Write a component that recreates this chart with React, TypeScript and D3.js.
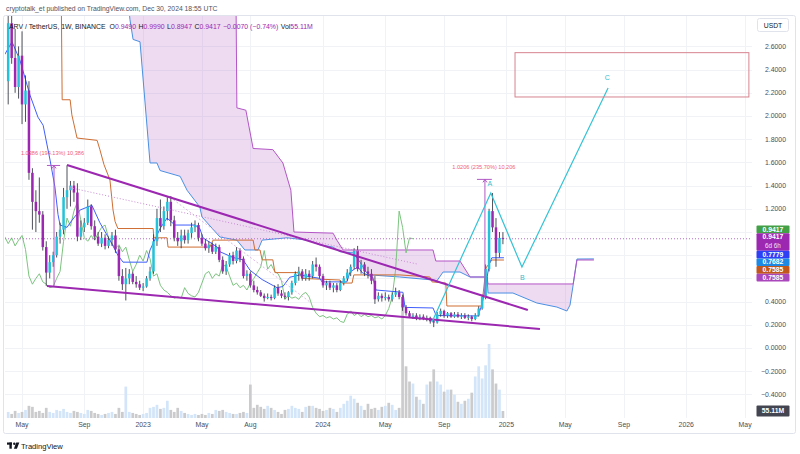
import React from "react";
import * as d3 from "d3";

const W = 800;
const H = 454;
const FONT = "'Liberation Sans', Arial, sans-serif";

// weekly bars, first bar = Monday 2022-04-04
const START = Date.UTC(2022, 3, 4);
const WEEK = 7 * 864e5;

// [open, high, low, close]
const candles: [number, number, number, number][] = [
  [2.30, 2.95, 2.10, 2.80], [2.80, 2.90, 2.45, 2.50], [2.50, 2.75, 2.20, 2.25], [2.25, 2.60, 2.15, 2.52],
  [2.52, 2.73, 1.93, 2.10], [2.10, 2.35, 1.95, 2.22], [2.22, 2.30, 1.45, 1.51], [1.51, 1.55, 1.02, 1.26],
  [1.26, 1.36, 1.00, 1.18], [1.18, 1.47, 1.08, 1.15], [1.15, 1.18, 0.84, 0.87], [0.87, 0.92, 0.535, 0.65],
  [0.65, 0.80, 0.60, 0.74], [0.74, 0.83, 0.70, 0.80], [0.80, 1.00, 0.78, 0.96], [0.96, 1.08, 0.90, 1.02],
  [1.02, 1.38, 0.98, 1.30], [1.30, 1.574, 1.20, 1.36], [1.36, 1.44, 1.22, 1.40], [1.40, 1.44, 1.26, 1.34],
  [1.34, 1.42, 0.92, 0.96], [0.96, 1.10, 0.93, 1.04], [1.04, 1.12, 1.00, 1.08], [1.08, 1.28, 1.06, 1.22],
  [1.22, 1.24, 1.02, 1.05], [1.05, 1.10, 0.93, 0.96], [0.96, 1.00, 0.88, 0.90], [0.90, 1.00, 0.87, 0.95],
  [0.95, 0.98, 0.85, 0.88], [0.88, 0.96, 0.86, 0.93], [0.93, 1.00, 0.88, 0.97], [0.97, 1.02, 0.82, 0.85],
  [0.85, 0.88, 0.58, 0.62], [0.62, 0.68, 0.50, 0.55], [0.55, 0.69, 0.41, 0.60], [0.60, 0.68, 0.55, 0.64],
  [0.64, 0.66, 0.55, 0.57], [0.57, 0.62, 0.52, 0.55], [0.55, 0.58, 0.50, 0.52], [0.52, 0.56, 0.49, 0.53],
  [0.53, 0.62, 0.52, 0.60], [0.60, 0.70, 0.58, 0.66], [0.66, 0.98, 0.64, 0.92], [0.92, 1.20, 0.88, 1.12],
  [1.12, 1.28, 1.00, 1.05], [1.05, 1.22, 1.02, 1.18], [1.18, 1.30, 1.10, 1.26], [1.26, 1.31, 1.05, 1.10],
  [1.10, 1.14, 0.92, 0.95], [0.95, 1.00, 0.88, 0.92], [0.92, 1.02, 0.86, 0.97], [0.97, 1.02, 0.90, 0.93],
  [0.93, 1.02, 0.90, 0.99], [0.99, 1.08, 0.95, 1.04], [1.04, 1.10, 1.00, 1.06], [1.06, 1.08, 0.92, 0.95],
  [0.95, 0.98, 0.88, 0.90], [0.90, 0.94, 0.84, 0.86], [0.86, 0.92, 0.82, 0.89], [0.89, 0.91, 0.81, 0.83],
  [0.83, 0.90, 0.81, 0.87], [0.87, 0.89, 0.74, 0.76], [0.76, 0.79, 0.64, 0.66], [0.66, 0.75, 0.63, 0.72],
  [0.72, 0.82, 0.70, 0.80], [0.80, 0.83, 0.72, 0.75], [0.75, 0.87, 0.73, 0.84], [0.84, 0.86, 0.74, 0.77],
  [0.77, 0.79, 0.60, 0.62], [0.62, 0.67, 0.58, 0.64], [0.64, 0.66, 0.52, 0.54], [0.54, 0.58, 0.48, 0.50],
  [0.50, 0.53, 0.46, 0.48], [0.48, 0.50, 0.44, 0.45], [0.45, 0.47, 0.40, 0.43], [0.43, 0.47, 0.42, 0.44],
  [0.44, 0.46, 0.41, 0.43], [0.43, 0.54, 0.42, 0.52], [0.52, 0.55, 0.45, 0.47], [0.47, 0.50, 0.43, 0.45],
  [0.45, 0.48, 0.42, 0.44], [0.44, 0.49, 0.41, 0.48], [0.48, 0.58, 0.46, 0.56], [0.56, 0.66, 0.54, 0.64],
  [0.64, 0.70, 0.58, 0.66], [0.66, 0.68, 0.58, 0.60], [0.60, 0.68, 0.58, 0.64], [0.64, 0.67, 0.58, 0.62],
  [0.62, 0.75, 0.60, 0.72], [0.72, 0.78, 0.66, 0.70], [0.70, 0.72, 0.60, 0.62], [0.62, 0.64, 0.52, 0.54],
  [0.54, 0.58, 0.50, 0.56], [0.56, 0.58, 0.50, 0.52], [0.52, 0.56, 0.48, 0.54], [0.54, 0.56, 0.48, 0.50],
  [0.50, 0.58, 0.49, 0.56], [0.56, 0.62, 0.54, 0.60], [0.60, 0.68, 0.58, 0.65], [0.65, 0.72, 0.62, 0.70],
  [0.70, 0.86, 0.68, 0.84], [0.84, 0.88, 0.66, 0.68], [0.68, 0.76, 0.64, 0.72], [0.72, 0.74, 0.62, 0.66],
  [0.66, 0.70, 0.60, 0.64], [0.64, 0.68, 0.55, 0.58], [0.58, 0.62, 0.38, 0.42], [0.42, 0.48, 0.40, 0.45],
  [0.45, 0.47, 0.40, 0.43], [0.43, 0.48, 0.41, 0.44], [0.44, 0.46, 0.40, 0.42], [0.42, 0.48, 0.40, 0.46],
  [0.46, 0.52, 0.44, 0.48], [0.48, 0.50, 0.42, 0.44], [0.44, 0.46, 0.32, 0.35], [0.35, 0.37, 0.28, 0.30],
  [0.30, 0.32, 0.26, 0.27], [0.27, 0.30, 0.25, 0.28], [0.28, 0.30, 0.24, 0.26], [0.26, 0.29, 0.24, 0.27],
  [0.27, 0.29, 0.24, 0.25], [0.25, 0.28, 0.23, 0.26], [0.26, 0.27, 0.21, 0.23], [0.23, 0.25, 0.18, 0.22],
  [0.22, 0.31, 0.21, 0.29], [0.29, 0.34, 0.27, 0.32], [0.32, 0.33, 0.26, 0.28], [0.28, 0.31, 0.26, 0.30],
  [0.30, 0.31, 0.26, 0.27], [0.27, 0.31, 0.26, 0.29], [0.29, 0.31, 0.26, 0.27], [0.27, 0.30, 0.25, 0.28],
  [0.28, 0.30, 0.25, 0.26], [0.26, 0.29, 0.24, 0.27], [0.27, 0.28, 0.23, 0.25], [0.25, 0.30, 0.24, 0.28],
  [0.28, 0.36, 0.27, 0.34], [0.34, 0.46, 0.33, 0.44], [0.44, 0.72, 0.42, 0.68], [0.68, 1.20, 0.66, 1.18],
  [1.18, 1.336, 1.00, 1.04], [1.04, 1.12, 0.70, 0.82], [0.82, 1.00, 0.78, 0.949], [0.949, 0.999, 0.8947, 0.9417],
];

// weekly volume, millions
const volumes: number[] = [
  48, 32, 56, 40, 48, 64, 96, 88, 48, 56, 40, 80, 48, 40, 64, 56, 72, 48, 40, 56,
  48, 40, 32, 64, 56, 40, 32, 24, 32, 40, 48, 32, 80, 48, 248, 48, 40, 32, 24, 32,
  40, 80, 88, 104, 72, 80, 136, 64, 48, 80, 56, 40, 32, 24, 32, 24, 32, 24, 40, 32,
  64, 56, 64, 48, 40, 32, 32, 40, 48, 40, 264, 80, 104, 88, 72, 96, 80, 64, 48, 32,
  64, 72, 96, 80, 72, 48, 88, 96, 96, 80, 72, 56, 64, 80, 72, 48, 80, 112, 136, 176,
  152, 120, 96, 64, 112, 72, 80, 64, 88, 96, 120, 104, 64, 80, 900, 408, 288, 272, 168, 144,
  112, 264, 288, 384, 288, 264, 208, 224, 224, 184, 128, 112, 136, 152, 200, 328, 408, 312, 416, 584,
  384, 272, 224, 55.11,
];

// Ichimoku lines as [bar index, price] vertices
const conversionLine: [number, number][] = [
  [-1, 2.53], [1.1, 2.64], [3.4, 2.48], [6.3, 2.18], [8.6, 1.99], [10.1, 1.92], [12.1, 1.62], [13.5, 1.39],
  [14.4, 1.15], [15.0, 1.06], [17.0, 1.04], [18.4, 1.10], [20.8, 1.19], [24.2, 1.23], [26.5, 1.08], [29.4, 0.93],
  [31.7, 0.80], [33.2, 0.74], [40.1, 0.74], [41.0, 0.845], [43.9, 1.03], [45.9, 1.12], [48.2, 1.06], [54.0, 1.06],
  [55.4, 1.03], [56.3, 0.95], [60.4, 0.87], [61.2, 0.83], [65.0, 0.78], [67.9, 0.76], [69.9, 0.67], [73.4, 0.59],
  [77.7, 0.52], [79.4, 0.53], [81.4, 0.61], [84.3, 0.63], [90.1, 0.60], [90.7, 0.57], [97.9, 0.57], [98.8, 0.655],
  [101.1, 0.70], [102.3, 0.65], [105.4, 0.61], [106.3, 0.50], [114.1, 0.48], [114.7, 0.35], [122.8, 0.345],
  [123.7, 0.28], [135.8, 0.276], [136.9, 0.37], [138.1, 0.54], [139.0, 0.72], [139.8, 0.7779], [143.3, 0.7779],
];
const baseLine: [number, number][] = [
  [-1, 3.2], [15.3, 3.17], [15.6, 2.14], [17.9, 2.14], [18.4, 2.01], [19.9, 1.81], [25.7, 1.79], [26.5, 1.71],
  [27.7, 1.58], [29.4, 1.45], [30.3, 1.19], [30.9, 1.09], [31.7, 1.03], [41.9, 1.03], [42.1, 0.95], [45.9, 0.95],
  [46.2, 0.87], [58.3, 0.87], [59.2, 0.93], [70.8, 0.93], [71.3, 0.845], [72.8, 0.845], [73.4, 0.76], [76.5, 0.76],
  [77.1, 0.65], [84.3, 0.65], [84.9, 0.60], [95.9, 0.586], [96.5, 0.56], [99.4, 0.56], [99.9, 0.63], [113.2, 0.63],
  [121.9, 0.612], [122.5, 0.57], [126.5, 0.56], [126.8, 0.362], [136.9, 0.362], [138.1, 0.69], [139.8, 0.7585],
  [143.3, 0.7585],
];
const leadingSpanA: [number, number][] = [
  [-1, 3.1], [34.3, 3.09], [35.2, 2.83], [36.1, 2.66], [38.1, 2.64], [41.0, 1.595], [43.0, 1.595], [43.9, 1.53],
  [49.7, 1.48], [51.7, 1.36], [55.4, 1.215], [56.0, 1.13], [61.2, 0.957], [66.1, 0.93], [68.4, 0.845], [72.2, 0.845],
  [73.4, 0.93], [80.6, 0.95], [86.4, 0.93], [90.1, 0.89], [93.9, 0.87], [95.9, 0.83], [99.7, 0.82], [101.7, 0.74],
  [103.4, 0.655], [104.6, 0.63], [113.2, 0.612], [122.8, 0.586], [123.9, 0.578], [125.7, 0.655], [130.6, 0.655],
  [133.5, 0.612], [138.4, 0.612], [138.7, 0.474], [145.9, 0.474], [152.8, 0.388], [158.6, 0.353], [161.5, 0.319],
  [162.4, 0.37], [163.3, 0.543], [164.4, 0.767], [169.3, 0.768],
];
const leadingSpanB: [number, number][] = [
  [-1, 3.2], [65.8, 3.2], [66.1, 2.07], [68.7, 2.05], [70.8, 1.72], [76.5, 1.71], [79.4, 1.595], [81.7, 1.36],
  [82.6, 1.0], [93.9, 0.99], [95.0, 0.93], [96.8, 0.845], [122.8, 0.845], [123.6, 0.75], [130.6, 0.75],
  [133.5, 0.612], [138.4, 0.612], [138.7, 0.552], [163.3, 0.552], [164.4, 0.7585], [169.3, 0.7585],
];

// drawings
const upperTrend: [number, number][] = [[17.0, 1.578], [150.2, 0.328]];
const lowerTrend: [number, number][] = [[11.2, 0.534], [153.7, 0.164]];
const dottedTrend: [number, number][] = [[17.0, 1.388], [118.2, 0.724]];
const dashedTrend: [number, number][] = [[46.8, 1.30], [87.2, 0.397]];
const abcWave: [number, number][] = [[122.5, 0.224], [139.5, 1.336], [148.5, 0.698], [173.4, 2.241]];
const abcLabels: [string, number, number][] = [["A", 139.2, 1.40], ["B", 148.6, 0.59], ["C", 173.2, 2.31]];
const targetBox: [number, number][] = [[146.5, 2.546], [214.1, 2.164]];
const measures = [
  { at: 13.25, from: 0.535, to: 1.5736, cap: [11.2, 15.0], text: "1.0386 (194.13%) 10,386", tx: 12.8, ty: 1.66 },
  { at: 137.8, from: 0.433, to: 1.4536, cap: [135.5, 139.8], text: "1.0206 (235.70%) 10,206", tx: 137.5, ty: 1.54 },
];

const gridPrices = [-0.4, -0.2, 0, 0.2, 0.4, 0.6, 0.8, 1.0, 1.2, 1.4, 1.6, 1.8, 2.0, 2.2, 2.4, 2.6];
const priceTicks = [2.6, 2.4, 2.2, 2.0, 1.8, 1.6, 1.4, 1.2, 0.4, 0.2, 0, -0.2, -0.4];
const timeTicks: [string, string][] = [
  ["2022-05-02", "May"], ["2022-09-05", "Sep"], ["2023-01-02", "2023"], ["2023-05-01", "May"],
  ["2023-08-07", "Aug"], ["2024-01-01", "2024"], ["2024-05-06", "May"], ["2024-09-02", "Sep"],
  ["2025-01-06", "2025"], ["2025-05-05", "May"], ["2025-09-01", "Sep"], ["2026-01-05", "2026"],
  ["2026-05-04", "May"],
];
const lastLabels = [
  { value: 0.9417, text: "0.9417", color: "#43a047" },
  { value: 0.9417, text: "0.9417", sub: "6d 6h", color: "#9c27b0" },
  { value: 0.7779, text: "0.7779", color: "#2f3ff5" },
  { value: 0.7682, text: "0.7682", color: "#1e88e5" },
  { value: 0.7585, text: "0.7585", color: "#c2571e" },
  { value: 0.7585, text: "0.7585", color: "#ab47bc" },
];
const lastVolumeText = "55.11M";
const currentPrice = 0.9417;

const UP = "#22c3da";
const DOWN = "#9c27b0";
const WICK = "#3a3d48";

const PLOT = { left: 5, right: 752, top: 16, bottom: 418 };

const xScale = d3
  .scaleUtc()
  .domain([new Date(START - 0.925 * WEEK), new Date(START + 215 * WEEK)])
  .range([PLOT.left, PLOT.right]);
const X = (i: number) => xScale(new Date(START + i * WEEK));
const yScale = d3.scaleLinear().domain([-0.4, 2.6]).range([394.4, 46.4]);
const volScale = d3.scaleLinear().domain([0, 900]).range([418, 304]);

const lineGen = d3
  .line<[number, number]>()
  .x((d) => X(d[0]))
  .y((d) => yScale(d[1]));

function fmt(v: number) {
  const s = Math.abs(v).toFixed(4);
  return v < -1e-9 ? "\u2212" + s : s;
}

function stackLabels() {
  const items = lastLabels.map((l, k) => ({ k, y: yScale(l.value), h: l.sub ? 17.4 : 7.7 }));
  type C = { members: number[]; desired: number[]; h: number };
  let clusters: C[] = items.map((it) => ({ members: [it.k], desired: [it.y], h: it.h }));
  const center = (c: C) => d3.mean(c.desired) as number;
  let changed = true;
  while (changed) {
    changed = false;
    for (let k = 0; k < clusters.length - 1; k++) {
      const a = clusters[k];
      const b = clusters[k + 1];
      if (center(a) + a.h / 2 > center(b) - b.h / 2) {
        clusters.splice(k, 2, {
          members: a.members.concat(b.members),
          desired: a.desired.concat(b.desired),
          h: a.h + b.h,
        });
        changed = true;
        break;
      }
    }
  }
  const tops: number[] = [];
  clusters.forEach((c) => {
    let t = center(c) - c.h / 2 + 1.2;
    c.members.forEach((m) => {
      tops[m] = t;
      t += items[m].h;
    });
  });
  return items.map((it) => ({ top: tops[it.k], h: it.h }));
}

export default function App() {
  const lagging: [number, number][] = candles.slice(25).map((c, k) => [k + 25 - 26, c[3]]);
  const cloudPath =
    (lineGen(leadingSpanB) as string) +
    "L" +
    (lineGen([...leadingSpanA].reverse()) as string).slice(1) +
    "Z";
  const stacked = stackLabels();
  const bw = 2.5;

  return (
    <svg
      width={W}
      height={H}
      style={{ position: "fixed", left: 0, top: 0, background: "#fff" }}
      fontFamily={FONT}
    >
      <defs>
        <clipPath id="plot">
          <rect x={PLOT.left} y={PLOT.top} width={PLOT.right - PLOT.left} height={PLOT.bottom - PLOT.top} />
        </clipPath>
      </defs>
      <rect x={0} y={0} width={W} height={H} fill="#fff" />

      {/* header */}
      <text x={6} y={10.5} fontSize={6.8} fill="#50535e">
        cryptotalk_et published on TradingView.com, Dec 30, 2024 18:55 UTC
      </text>

      {/* frame */}
      <rect x={3.5} y={15.5} width={792} height={418} fill="none" stroke="#e0e3eb" rx={2} />

      {/* grid */}
      <g stroke="#f0f2f6" strokeWidth={1}>
        {gridPrices.map((p) => (
          <line key={"gh" + p} x1={PLOT.left} x2={PLOT.right} y1={Math.round(yScale(p)) + 0.5} y2={Math.round(yScale(p)) + 0.5} />
        ))}
        {timeTicks.map(([d]) => {
          const xx = Math.round(xScale(new Date(d + "T00:00:00Z"))) + 0.5;
          return <line key={"gv" + d} x1={xx} x2={xx} y1={PLOT.top} y2={PLOT.bottom} />;
        })}
      </g>

      <g clipPath="url(#plot)">
        {/* volume */}
        {volumes.map((v, i) => {
          const c = candles[i];
          const up = c[3] >= c[0];
          const top = volScale(v);
          return (
            <rect
              key={"v" + i}
              x={X(i) - 1.35}
              y={top}
              width={2.7}
              height={volScale(0) - top}
              fill={up ? "#d3e5f8" : "#cbcbcd"}
            />
          );
        })}

        {/* cloud */}
        <path d={cloudPath} fill="rgba(186, 104, 200, 0.24)" stroke="none" />
        <path d={lineGen(leadingSpanA) as string} fill="none" stroke="#4a90e2" strokeWidth={1} />
        <path d={lineGen(leadingSpanB) as string} fill="none" stroke="#b455c6" strokeWidth={1} />

        {/* lagging, base, conversion */}
        <path d={lineGen(lagging) as string} fill="none" stroke="#7cc47f" strokeWidth={1} />
        <path d={lineGen(baseLine) as string} fill="none" stroke="#cf6d32" strokeWidth={1} />
        <path d={lineGen(conversionLine) as string} fill="none" stroke="#3f5efb" strokeWidth={1} />

        {/* current price line */}
        <line
          x1={PLOT.left}
          x2={PLOT.right}
          y1={yScale(currentPrice)}
          y2={yScale(currentPrice)}
          stroke="#b86cc8"
          strokeWidth={1}
          strokeDasharray="1 2"
        />

        {/* candles */}
        {candles.map(([o, h, l, c], i) => {
          const xx = X(i);
          const up = c >= o;
          const yt = yScale(Math.max(o, c));
          const yb = yScale(Math.min(o, c));
          return (
            <g key={"c" + i}>
              <line x1={xx} x2={xx} y1={yScale(h)} y2={yScale(l)} stroke={WICK} strokeWidth={0.9} />
              <rect x={xx - bw / 2} y={yt} width={bw} height={Math.max(1, yb - yt)} fill={up ? UP : DOWN} />
            </g>
          );
        })}

        {/* trend drawings */}
        <path d={lineGen(dottedTrend) as string} stroke="#c98ad4" strokeWidth={1} strokeDasharray="1 2" fill="none" />
        <path d={lineGen(dashedTrend) as string} stroke="#d7a6de" strokeWidth={0.8} strokeDasharray="2 2" fill="none" />
        <path d={lineGen(upperTrend) as string} stroke="#9c27b0" strokeWidth={2} fill="none" />
        <path d={lineGen(lowerTrend) as string} stroke="#9c27b0" strokeWidth={2} fill="none" />

        {/* measure tools */}
        {measures.map((m, k) => {
          const xx = X(m.at);
          const y1 = yScale(m.from);
          const y2 = yScale(m.to);
          return (
            <g key={"m" + k}>
              <line x1={xx} x2={xx} y1={y1} y2={y2} stroke="#b158c4" strokeWidth={1} />
              <line x1={X(m.cap[0])} x2={X(m.cap[1])} y1={y2} y2={y2} stroke="#b158c4" strokeWidth={1} />
              <path d={`M${xx - 2},${y2 + 3}L${xx},${y2}L${xx + 2},${y2 + 3}`} stroke="#b158c4" fill="none" strokeWidth={1} />
              <text x={X(m.tx)} y={yScale(m.ty)} fontSize={5.6} fill="#f0607a" textAnchor="middle">
                {m.text}
              </text>
            </g>
          );
        })}

        {/* ABC projection */}
        <path d={lineGen(abcWave) as string} stroke="#34c3d6" strokeWidth={1.2} fill="none" />
        {abcLabels.map(([t, i, p]) => (
          <text key={t} x={X(i)} y={yScale(p)} fontSize={7} fill="#2fbdd0" textAnchor="middle">
            {t}
          </text>
        ))}
        <rect
          x={X(targetBox[0][0])}
          y={yScale(targetBox[0][1])}
          width={X(targetBox[1][0]) - X(targetBox[0][0])}
          height={yScale(targetBox[1][1]) - yScale(targetBox[0][1])}
          fill="none"
          stroke="#d6848f"
          strokeWidth={1}
        />
      </g>

      {/* legend */}
      <text x={9} y={28.5} fontSize={6.9} fill="#131722">
        <tspan>ARV / TetherUS, 1W, BINANCE </tspan>
        <tspan dx={2}>O</tspan>
        <tspan fill={DOWN}>0.9490</tspan>
        <tspan dx={2.5}>H</tspan>
        <tspan fill={DOWN}>0.9990</tspan>
        <tspan dx={2.5}>L</tspan>
        <tspan fill={DOWN}>0.8947</tspan>
        <tspan dx={2.5}>C</tspan>
        <tspan fill={DOWN}>0.9417</tspan>
        <tspan dx={2.5} fill={DOWN}>{"\u22120.0070 (\u22120.74%)"}</tspan>
        <tspan dx={2.5}>Vol</tspan>
        <tspan fill={DOWN}>55.11M</tspan>
      </text>

      {/* price axis */}
      <rect x={757.5} y={18.5} width={31} height={13} fill="#fff" stroke="#e0e3eb" rx={2} />
      <text x={773} y={27.5} fontSize={6.8} fill="#131722" textAnchor="middle">
        USDT
      </text>
      {priceTicks.map((p) => (
        <text key={"pt" + p} x={786} y={yScale(p) + 2.4} fontSize={6.9} fill="#4a4e59" textAnchor="end">
          {fmt(p)}
        </text>
      ))}
      {lastLabels.map((l, k) => {
        const s = stacked[k];
        return (
          <g key={"ll" + k}>
            <rect x={756.5} y={s.top} width={33} height={s.h} fill={l.color} rx={1} />
            <text x={773} y={s.top + 5.9} fontSize={6.8} fontWeight="bold" fill="#fff" textAnchor="middle">
              {l.text}
            </text>
            {l.sub && (
              <text x={773} y={s.top + 14.2} fontSize={6.3} fill="#f3e1f6" textAnchor="middle">
                {l.sub}
              </text>
            )}
          </g>
        );
      })}
      <rect x={756.5} y={volScale(55.11) - 5.5} width={33} height={11} fill="#434651" rx={1} />
      <text x={773} y={volScale(55.11) + 2.4} fontSize={6.8} fontWeight="bold" fill="#fff" textAnchor="middle">
        {lastVolumeText}
      </text>

      {/* time axis */}
      {timeTicks.map(([d, t]) => (
        <text key={"tt" + d} x={xScale(new Date(d + "T00:00:00Z"))} y={427} fontSize={6.9} fill="#4a4e59" textAnchor="middle">
          {t}
        </text>
      ))}

      {/* TradingView logo */}
      <g fill="#131722">
        <rect x={7} y={442.5} width={5} height={2.2} />
        <rect x={9.4} y={442.5} width={2.4} height={6.2} />
        <circle cx={14.3} cy={443.7} r={1.2} />
        <path d="M16.2,442.5L19.3,442.5L16.9,448.7L13.9,448.7Z" />
      </g>
      <text x={21} y={448.6} fontSize={7.6} fill="#131722">
        TradingView
      </text>
    </svg>
  );
}
